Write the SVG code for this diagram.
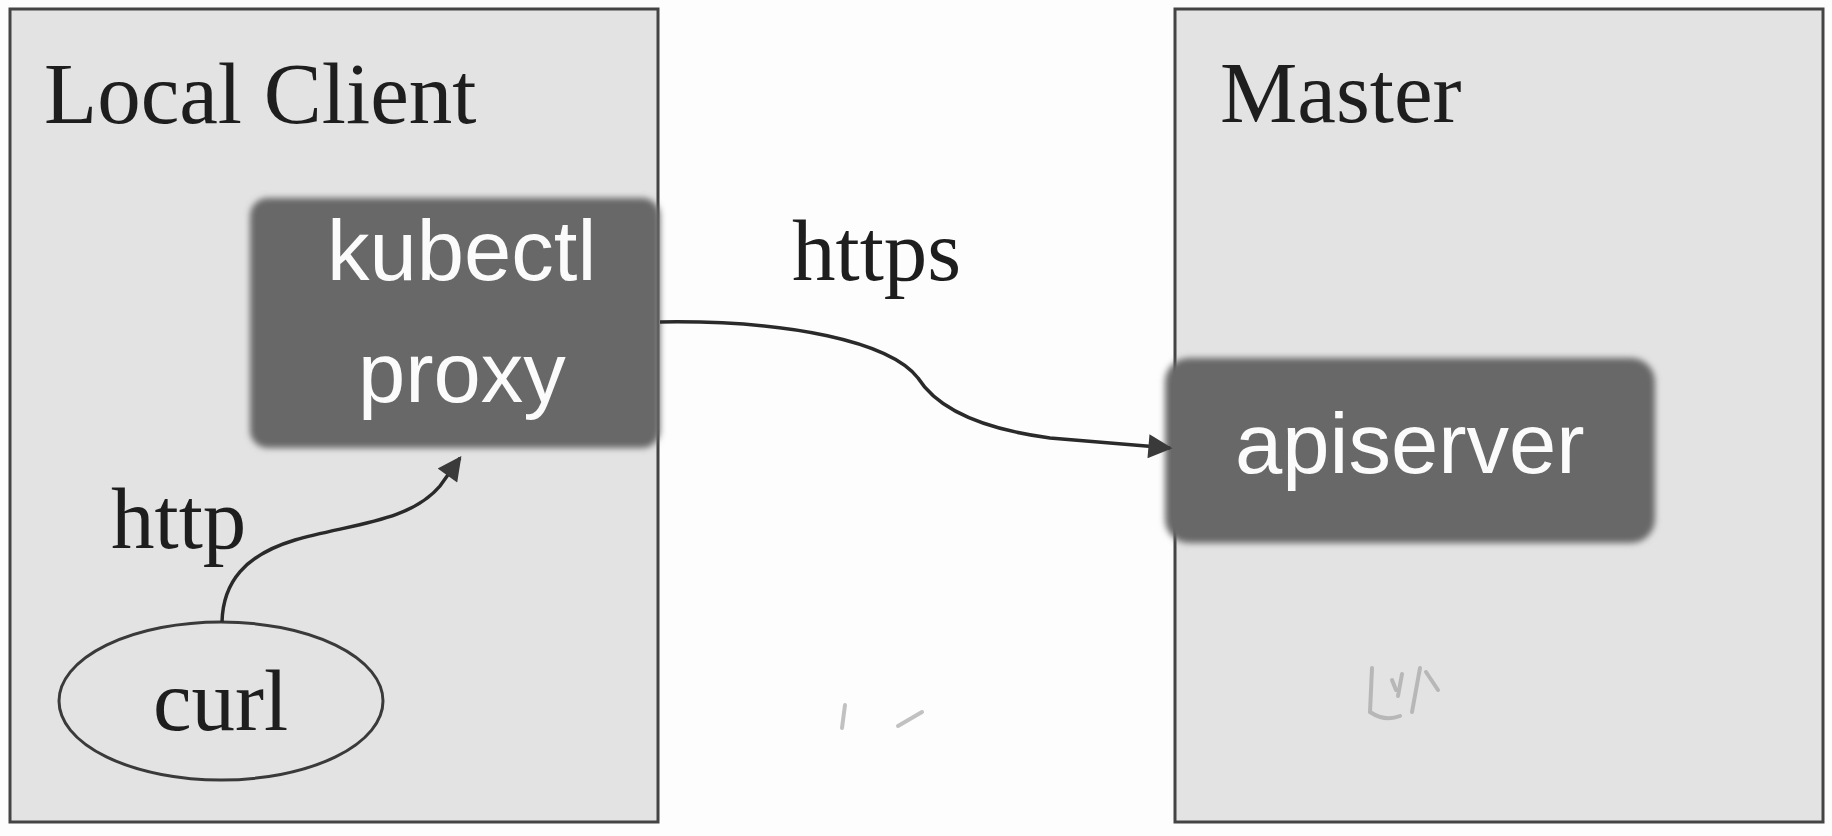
<svg xmlns="http://www.w3.org/2000/svg" width="1832" height="836" viewBox="0 0 1832 836">
  <style>
    .panel { fill: #e3e3e3; stroke: #444444; stroke-width: 3; }
    .dark { fill: #686868; }
    .serif { font-family: "Liberation Serif", "Times New Roman", serif; font-size: 87px; fill: #1e1e1e; }
    .sans { font-family: "Liberation Sans", Arial, sans-serif; font-size: 85px; fill: #fbfbfb; }
    .edge { fill: none; stroke: #2a2a2a; stroke-width: 3.5; }
    .smudge { fill: none; stroke: #9a9a9a; stroke-width: 4; stroke-linecap: round; opacity: 0.6; }
  </style>
  <defs>
    <filter id="soft" x="-10%" y="-10%" width="120%" height="120%">
      <feGaussianBlur stdDeviation="3"/>
    </filter>
    <marker id="arrowBig" viewBox="0 0 10 10" refX="9" refY="5" markerWidth="26" markerHeight="24" markerUnits="userSpaceOnUse" orient="auto">
      <path d="M0,0 L10,5 L0,10 Z" fill="#3a3a3a"/>
    </marker>
  </defs>

  <rect x="0" y="0" width="1832" height="836" fill="#fdfdfd"/>

  <g id="local-client">
    <rect class="panel" x="10" y="9" width="648" height="813"/>
    <text class="serif" x="44" y="123">Local Client</text>
  </g>

  <g id="master">
    <rect class="panel" x="1175" y="9" width="648" height="813"/>
    <text class="serif" x="1220" y="122">Master</text>
    <g id="smudges">
      <path class="smudge" d="M1372,668 L1370,712 Q1385,722 1400,716"/>
      <path class="smudge" d="M1392,680 L1396,690 M1402,674 L1398,696"/>
      <path class="smudge" d="M1420,668 L1412,712 M1426,672 L1438,690"/>
      <path class="smudge" d="M845,705 L842,728 M898,726 L922,712"/>
    </g>
  </g>

  <g id="kubectl-proxy">
    <rect class="dark" x="250" y="198" width="410" height="250" rx="18" filter="url(#soft)"/>
    <text class="sans" x="327" y="280">kubectl</text>
    <text class="sans" x="358" y="402">proxy</text>
  </g>

  <g id="apiserver">
    <rect class="dark" x="1165" y="358" width="490" height="185" rx="24" filter="url(#soft)"/>
    <text class="sans" x="1235" y="473">apiserver</text>
  </g>

  <g id="curl">
    <ellipse cx="221" cy="701" rx="162" ry="79" fill="none" stroke="#3a3a3a" stroke-width="3"/>
    <text class="serif" x="153" y="730">curl</text>
  </g>

  <g id="connectors">
    <path class="edge" d="M222,622 C223,582 245,555 295,540 C350,524 410,522 440,486 L460,458" marker-end="url(#arrowBig)"/>
    <text class="serif" x="111" y="548">http</text>
    <path class="edge" d="M660,322 C790,320 890,342 918,378 C935,405 975,428 1050,438 L1170,448" marker-end="url(#arrowBig)"/>
    <text class="serif" x="792" y="280">https</text>
  </g>
</svg>
